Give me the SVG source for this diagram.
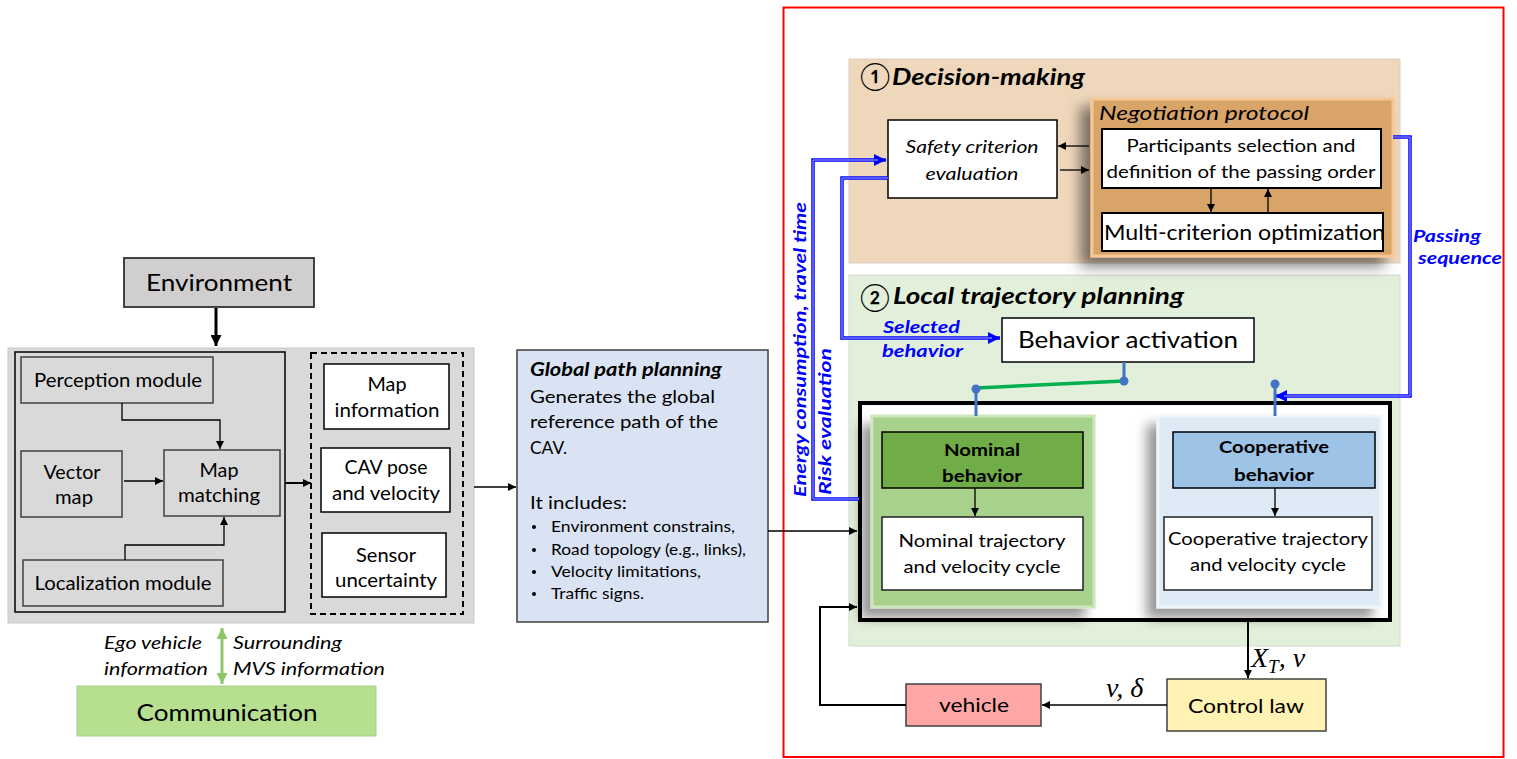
<svg xmlns="http://www.w3.org/2000/svg" width="1517" height="759" viewBox="0 0 1517 759">
<defs>
<style>
text{font-family:Lato,"Open Sans","DejaVu Sans",sans-serif;fill:#000}
.c{text-anchor:middle}
.i{font-style:italic}
.bd{font-weight:bold}
.bx{stroke:#404040;stroke-width:1.5}
.bk{stroke:#000;stroke-width:1.5}
.ln{fill:none;stroke:#000;stroke-width:1.3}
.blue{fill:none;stroke:#0000ff;stroke-width:3.5}
.bluei{fill:none;stroke:#aab0ff;stroke-width:1}
.bt{fill:#0000ff;font-weight:bold;font-style:italic}
.sl{fill:none;stroke:#4472c4;stroke-width:3}
.math{font-family:"Liberation Serif","DejaVu Serif",serif;font-style:italic}
</style>
<marker id="a" viewBox="0 0 10 10" refX="10" refY="5" markerWidth="8" markerHeight="8" markerUnits="userSpaceOnUse" orient="auto"><path d="M0,0L10,5L0,10z" fill="#000"/></marker>
<marker id="aL" viewBox="0 0 10 10" refX="10" refY="5" markerWidth="11" markerHeight="11" markerUnits="userSpaceOnUse" orient="auto"><path d="M0,0L10,5L0,10z" fill="#000"/></marker>
<marker id="ab" viewBox="0 0 10 10" refX="10" refY="5" markerWidth="12" markerHeight="12" markerUnits="userSpaceOnUse" orient="auto"><path d="M0,0L10,5L0,10z" fill="#0000ff"/></marker>
<marker id="ag" viewBox="0 0 10 10" refX="10" refY="5" markerWidth="11" markerHeight="11" markerUnits="userSpaceOnUse" orient="auto-start-reverse"><path d="M0,0L10,5L0,10z" fill="#8cc66a"/></marker>
<filter id="sh" x="-20%" y="-20%" width="140%" height="150%"><feDropShadow dx="-10" dy="9" stdDeviation="7" flood-color="#000" flood-opacity="0.5"/></filter>
<filter id="sh2" x="-20%" y="-20%" width="140%" height="150%"><feDropShadow dx="-10" dy="10" stdDeviation="6" flood-color="#000" flood-opacity="0.4"/></filter>
</defs>
<rect x="0" y="0" width="1517" height="759" fill="#fff"/>

<!-- Left part -->
<g id="environment">
<rect x="124" y="258" width="190" height="49" fill="#d0cece" stroke="#303030" stroke-width="1.8"/>
<text x="219" y="291" class="c" font-size="24" textLength="146" lengthAdjust="spacingAndGlyphs">Environment</text>
</g>
<g id="perception-panel">
<rect x="8" y="348" width="466" height="275" fill="#d9d9d9" stroke="#c8c8c8" stroke-width="1"/>
<rect x="15" y="352" width="270" height="260" fill="none" stroke="#000" stroke-width="1.5"/>
</g>
<g id="perception-module">
<rect x="21" y="357" width="192" height="46" fill="#d9d9d9" class="bx"/>
<text x="118" y="387" class="c" font-size="19" textLength="168" lengthAdjust="spacingAndGlyphs">Perception module</text>
</g>
<g id="vector-map">
<rect x="21" y="451" width="101" height="66" fill="#d9d9d9" class="bx"/>
<text x="72" y="479" class="c" font-size="19" textLength="57" lengthAdjust="spacingAndGlyphs">Vector</text>
<text x="74" y="504" class="c" font-size="19" textLength="38" lengthAdjust="spacingAndGlyphs">map</text>
</g>
<g id="map-matching">
<rect x="164" y="450" width="116" height="66" fill="#d9d9d9" class="bx"/>
<text x="219" y="477" class="c" font-size="19" textLength="39" lengthAdjust="spacingAndGlyphs">Map</text>
<text x="219" y="502" class="c" font-size="19" textLength="82" lengthAdjust="spacingAndGlyphs">matching</text>
</g>
<g id="localization-module">
<rect x="23" y="560" width="200" height="46" fill="#d9d9d9" class="bx"/>
<text x="123" y="590" class="c" font-size="19" textLength="177" lengthAdjust="spacingAndGlyphs">Localization module</text>
</g>
<g id="outputs-group">
<rect x="311" y="353" width="152" height="261" fill="none" stroke="#000" stroke-width="2" stroke-dasharray="6,4"/>
</g>
<g id="map-information">
<rect x="324" y="364" width="125" height="65" fill="#fff" class="bk"/>
<text x="387" y="391" class="c" font-size="19" textLength="39" lengthAdjust="spacingAndGlyphs">Map</text>
<text x="387" y="417" class="c" font-size="19" textLength="105" lengthAdjust="spacingAndGlyphs">information</text>
</g>
<g id="cav-pose">
<rect x="321" y="448" width="129" height="64" fill="#fff" class="bk"/>
<text x="386" y="474" class="c" font-size="19" textLength="83" lengthAdjust="spacingAndGlyphs">CAV pose</text>
<text x="386" y="500" class="c" font-size="19" textLength="108" lengthAdjust="spacingAndGlyphs">and velocity</text>
</g>
<g id="sensor-uncertainty">
<rect x="322" y="533" width="124" height="64" fill="#fff" class="bk"/>
<text x="386" y="562" class="c" font-size="19" textLength="60" lengthAdjust="spacingAndGlyphs">Sensor</text>
<text x="386" y="587" class="c" font-size="19" textLength="102" lengthAdjust="spacingAndGlyphs">uncertainty</text>
</g>
<g id="communication">
<rect x="77" y="686" width="299" height="50" fill="#b7df90" stroke="#a6cf85" stroke-width="1"/>
<text x="227" y="721" class="c" font-size="24" textLength="181" lengthAdjust="spacingAndGlyphs">Communication</text>
</g>
<g id="comm-labels">
<text x="104" y="649" class="i" font-size="18" textLength="98" lengthAdjust="spacingAndGlyphs">Ego vehicle</text>
<text x="104" y="675" class="i" font-size="18" textLength="104" lengthAdjust="spacingAndGlyphs">information</text>
<text x="233" y="649" class="i" font-size="18" textLength="109" lengthAdjust="spacingAndGlyphs">Surrounding</text>
<text x="233" y="675" class="i" font-size="18" textLength="152" lengthAdjust="spacingAndGlyphs">MVS information</text>
</g>
<g id="global-path-planning">
<rect x="517" y="350" width="251" height="272" fill="#dae3f3" stroke="#404040" stroke-width="1.5"/>
<text x="530" y="376" class="bd i" font-size="18" textLength="192" lengthAdjust="spacingAndGlyphs">Global path planning</text>
<text x="530" y="403" font-size="18" textLength="185" lengthAdjust="spacingAndGlyphs">Generates the global</text>
<text x="530" y="428" font-size="18" textLength="188" lengthAdjust="spacingAndGlyphs">reference path of the</text>
<text x="530" y="454" font-size="18" textLength="37" lengthAdjust="spacingAndGlyphs">CAV.</text>
<text x="530" y="509" font-size="18" textLength="97" lengthAdjust="spacingAndGlyphs">It includes:</text>
<g font-size="16">
<circle cx="534" cy="527" r="2"/><text x="551" y="532" textLength="184" lengthAdjust="spacingAndGlyphs">Environment constrains,</text>
<circle cx="534" cy="550" r="2"/><text x="551" y="555" textLength="195" lengthAdjust="spacingAndGlyphs">Road topology (e.g., links),</text>
<circle cx="534" cy="572" r="2"/><text x="551" y="577" textLength="150" lengthAdjust="spacingAndGlyphs">Velocity limitations,</text>
<circle cx="534" cy="594" r="2"/><text x="551" y="599" textLength="93" lengthAdjust="spacingAndGlyphs">Traffic signs.</text>
</g>
</g>

<!-- Right part -->
<g id="frame">
<rect x="783.5" y="7.5" width="720" height="749.5" fill="none" stroke="#ff0000" stroke-width="2"/>
</g>
<g id="decision-making">
<rect x="849" y="59" width="551" height="204" fill="#efd7bb" stroke="#d8d0c8" stroke-width="1"/>
<text x="860" y="86" font-size="27" font-family="DejaVu Sans">①</text>
<text x="892" y="85" class="bd i" font-size="22" textLength="193" lengthAdjust="spacingAndGlyphs">Decision-making</text>
</g>
<g id="local-trajectory-planning">
<rect x="849" y="275" width="551" height="371" fill="#e2efda" stroke="#d3dccd" stroke-width="1"/>
<text x="860" y="307" font-size="27" font-family="DejaVu Sans">②</text>
<text x="893" y="304" class="bd i" font-size="22" textLength="291" lengthAdjust="spacingAndGlyphs">Local trajectory planning</text>
</g>
<g id="safety-criterion">
<rect x="888" y="120" width="169" height="78" fill="#fff" class="bk"/>
<text x="972" y="153" class="c i" font-size="17" textLength="133" lengthAdjust="spacingAndGlyphs">Safety criterion</text>
<text x="972" y="180" class="c i" font-size="17" textLength="93" lengthAdjust="spacingAndGlyphs">evaluation</text>
</g>
<g id="negotiation-protocol">
<rect x="1092" y="99" width="301" height="157" fill="#d8a468" stroke="#f5c795" stroke-width="3" filter="url(#sh)"/>
<text x="1099" y="120" class="i" font-size="19" textLength="210" lengthAdjust="spacingAndGlyphs">Negotiation protocol</text>
</g>
<g id="participants-selection">
<rect x="1102" y="129" width="279" height="59" fill="#fff" stroke="#000" stroke-width="2"/>
<text x="1241" y="152" class="c" font-size="17" textLength="229" lengthAdjust="spacingAndGlyphs">Participants selection and</text>
<text x="1241" y="178" class="c" font-size="17" textLength="269" lengthAdjust="spacingAndGlyphs">definition of the passing order</text>
</g>
<g id="multi-criterion">
<rect x="1102" y="213" width="281" height="38" fill="#fff" stroke="#000" stroke-width="2"/>
<text x="1104" y="240" font-size="21" textLength="281" lengthAdjust="spacingAndGlyphs">Multi-criterion optimization</text>
</g>
<g id="behavior-activation">
<rect x="1002" y="318" width="252" height="44" fill="#fff" class="bk"/>
<text x="1128" y="348" class="c" font-size="23" textLength="220" lengthAdjust="spacingAndGlyphs">Behavior activation</text>
</g>
<g id="behaviors-block">
<rect x="860" y="403" width="530" height="217" fill="#fff" stroke="#000" stroke-width="4"/>
</g>
<g id="nominal">
<rect x="872" y="416" width="222" height="191" fill="#a9d18e" stroke="#cde6bb" stroke-width="3" filter="url(#sh2)"/>
<rect x="882" y="432" width="201" height="56" fill="#70ad47" stroke="#000" stroke-width="1.5"/>
<text x="982" y="456" class="c bd" font-size="17" textLength="76" lengthAdjust="spacingAndGlyphs">Nominal</text>
<text x="982" y="482" class="c bd" font-size="17" textLength="80" lengthAdjust="spacingAndGlyphs">behavior</text>
<rect x="882" y="517" width="201" height="73" fill="#fff" stroke="#222" stroke-width="1.5"/>
<text x="982" y="547" class="c" font-size="17" textLength="167" lengthAdjust="spacingAndGlyphs">Nominal trajectory</text>
<text x="982" y="573" class="c" font-size="17" textLength="157" lengthAdjust="spacingAndGlyphs">and velocity cycle</text>
</g>
<g id="cooperative">
<rect x="1158" y="416" width="223" height="191" fill="#deebf7" stroke="#f0f6fc" stroke-width="3" filter="url(#sh2)"/>
<rect x="1173" y="432" width="202" height="56" fill="#9dc3e6" stroke="#000" stroke-width="1.5"/>
<text x="1274" y="453" class="c bd" font-size="17" textLength="110" lengthAdjust="spacingAndGlyphs">Cooperative</text>
<text x="1274" y="481" class="c bd" font-size="17" textLength="80" lengthAdjust="spacingAndGlyphs">behavior</text>
<rect x="1164" y="517" width="208" height="73" fill="#fff" stroke="#222" stroke-width="1.5"/>
<text x="1268" y="545" class="c" font-size="17" textLength="200" lengthAdjust="spacingAndGlyphs">Cooperative trajectory</text>
<text x="1268" y="571" class="c" font-size="17" textLength="156" lengthAdjust="spacingAndGlyphs">and velocity cycle</text>
</g>
<g id="control-law">
<rect x="1167" y="679" width="159" height="52" fill="#fff2b2" class="bx"/>
<text x="1246" y="713" class="c" font-size="20" textLength="116" lengthAdjust="spacingAndGlyphs">Control law</text>
</g>
<g id="vehicle">
<rect x="906" y="684" width="135" height="42" fill="#ffa6a6" class="bx"/>
<text x="974" y="712" class="c" font-size="20" textLength="70" lengthAdjust="spacingAndGlyphs">vehicle</text>
</g>

<g id="connectors">
<path d="M216,308V346" fill="none" stroke="#000" stroke-width="3" marker-end="url(#aL)"/>
<path d="M122,403V420H220V449" class="ln" marker-end="url(#a)"/>
<path d="M124,481H163" class="ln" marker-end="url(#a)"/>
<path d="M125,560V545H224V517" class="ln" marker-end="url(#a)"/>
<path d="M285,483H311" fill="none" stroke="#000" stroke-width="2" marker-end="url(#a)"/>
<path d="M222,628V684" fill="none" stroke="#8cc66a" stroke-width="3" marker-start="url(#ag)" marker-end="url(#ag)"/>
<path d="M474,487H516" class="ln" marker-end="url(#a)"/>
<path d="M768,531H857" class="ln" marker-end="url(#a)"/>
<path d="M1060,170H1089" class="ln" marker-end="url(#a)"/>
<path d="M1089,146H1058" class="ln" marker-end="url(#a)"/>
<path d="M1211,188V212" class="ln" marker-end="url(#a)"/>
<path d="M1268,213V189" class="ln" marker-end="url(#a)"/>
<path d="M975,488V516" class="ln" marker-end="url(#a)"/>
<path d="M1275,488V516" class="ln" marker-end="url(#a)"/>
<path d="M1248,620V678" fill="none" stroke="#000" stroke-width="2" marker-end="url(#a)"/>
<path d="M1167,705H1042" class="ln" marker-end="url(#a)"/>
<path d="M906,705H820V607H857" fill="none" stroke="#000" stroke-width="2" marker-end="url(#a)"/>
<path d="M859,499H813V160H886" class="blue" marker-end="url(#ab)"/>
<path d="M859,499H813V160H878" class="bluei"/>
<path d="M888,178H842V338H1000" class="blue" marker-end="url(#ab)"/>
<path d="M888,178H842V338H992" class="bluei"/>
<path d="M1393,137H1410V396H1275" class="blue" marker-end="url(#ab)"/>
<path d="M1393,137H1410V396H1284" class="bluei"/>
<path d="M1124,362V381" class="sl"/>
<path d="M1124,381L976,388" fill="none" stroke="#00b050" stroke-width="3.5"/>
<path d="M976,388V416" class="sl"/>
<circle cx="1124" cy="381" r="4.5" fill="#4472c4"/>
<circle cx="976" cy="389" r="4.5" fill="#4472c4"/>
<path d="M1275,385V416" class="sl"/>
<circle cx="1275" cy="384" r="4.5" fill="#4472c4"/>
</g>

<g id="connector-labels">
<text x="883" y="333" class="bt" font-size="17" textLength="77" lengthAdjust="spacingAndGlyphs">Selected</text>
<text x="882" y="357" class="bt" font-size="17" textLength="81" lengthAdjust="spacingAndGlyphs">behavior</text>
<text x="1413" y="242" class="bt" font-size="17" textLength="68" lengthAdjust="spacingAndGlyphs">Passing</text>
<text x="1418" y="264" class="bt" font-size="17" textLength="84" lengthAdjust="spacingAndGlyphs">sequence</text>
<text transform="translate(806,497) rotate(-90)" class="bt" font-size="17" textLength="295" lengthAdjust="spacingAndGlyphs">Energy consumption, travel time</text>
<text transform="translate(831,495) rotate(-90)" class="bt" font-size="17" textLength="147" lengthAdjust="spacingAndGlyphs">Risk evaluation</text>
<text x="1251" y="667" class="math" font-size="28">X<tspan font-size="19" dy="6">T</tspan><tspan dy="-6">, v</tspan></text>
<text x="1106" y="697" class="math" font-size="28">v, δ</text>
</g>
</svg>
